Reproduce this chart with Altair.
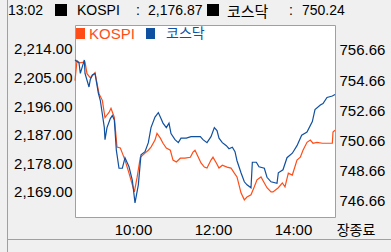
import altair as alt
import pandas as pd

# ---- data ----
kospi_minutes = [513, 516, 520, 528, 531, 536, 542, 543, 549, 554, 558, 564, 567, 572, 576, 581, 584, 588,
                 594, 602, 606, 611, 618, 623, 627, 633, 636, 641, 645, 650, 656, 660, 665, 671, 678, 686,
                 690, 693, 698, 702, 707, 711, 717, 720, 725, 729, 734, 741, 747, 752, 756, 762, 767, 771,
                 777, 782, 786, 792, 797, 801, 807, 810, 818, 824, 828, 833, 839, 846, 851, 855, 861, 866,
                 870, 876, 884, 891, 899, 900, 903]
kospi_values = [2204.0, 2210.3, 2209.6, 2209.9, 2206.2, 2204.9, 2206.2, 2206.5, 2199.9, 2197.8, 2192.4,
                2194.0, 2195.3, 2192.4, 2183.1, 2182.8, 2181.2, 2179.0, 2174.9, 2169.0, 2173.4, 2179.9,
                2181.2, 2182.1, 2183.1, 2185.3, 2187.4, 2185.9, 2184.3, 2182.8, 2182.1, 2179.0, 2178.4,
                2179.6, 2179.6, 2179.9, 2181.5, 2182.1, 2179.9, 2178.1, 2176.8, 2176.5, 2179.0, 2179.9,
                2178.1, 2176.5, 2177.4, 2176.8, 2176.5, 2174.9, 2173.7, 2168.7, 2166.5, 2167.4, 2168.1,
                2170.6, 2172.8, 2173.7, 2171.8, 2170.3, 2169.0, 2169.0, 2170.3, 2171.8, 2170.6, 2174.9,
                2174.3, 2179.0, 2179.9, 2182.1, 2184.6, 2185.3, 2184.3, 2184.6, 2184.3, 2184.3, 2184.3,
                2187.8, 2188.4]

kosdaq_minutes = [513, 519, 521, 527, 528, 534, 536, 539, 543, 548, 551, 557, 558, 561, 566, 569, 572, 575,
                  579, 584, 588, 594, 599, 603, 608, 612, 618, 623, 627, 633, 638, 642, 645, 650, 654, 657,
                  663, 668, 672, 680, 687, 701, 705, 711, 717, 722, 726, 729, 734, 740, 744, 749, 753, 756,
                  762, 767, 771, 777, 779, 785, 789, 797, 801, 807, 816, 818, 825, 831, 839, 846, 853, 861,
                  869, 873, 881, 885, 891, 899, 903]
kosdaq_values = [756.0, 755.8, 755.1, 756.0, 755.1, 754.2, 754.7, 755.0, 755.1, 753.8, 753.3, 751.5, 750.7,
                 751.5, 752.1, 752.3, 752.0, 750.0, 748.8, 748.8, 749.5, 748.9, 748.0, 746.5, 747.7, 749.7,
                 749.9, 750.5, 751.5, 752.2, 752.5, 752.1, 751.8, 751.5, 751.8, 751.1, 750.7, 750.5, 750.8,
                 750.8, 750.9, 750.9, 750.7, 750.5, 750.9, 751.5, 751.3, 750.8, 750.5, 750.3, 750.1, 750.2,
                 749.9, 749.3, 748.5, 747.9, 747.7, 747.5, 749.2, 749.2, 748.9, 748.8, 748.2, 747.9, 747.8,
                 748.5, 748.7, 749.5, 749.8, 750.3, 751.0, 751.2, 751.9, 752.7, 753.0, 753.1, 753.5, 753.6,
                 753.7]

kospi_ticks = [2169, 2178, 2187, 2196, 2205, 2214]
kosdaq_ticks = [746.66, 748.66, 750.66, 752.66, 754.66, 756.66]
time_ticks = [600, 720, 840]

header_time = "13:02"
header_kospi = ["KOSPI", ":", "2,176.87"]
header_kosdaq = ["코스닥", ":", "750.24"]
legend_labels = ["KOSPI", "코스닥"]
end_label = "장종료"

ORANGE = "#ff4d17"
BLUE = "#1050a0"
FONT = "Liberation Sans"
KFONT = "Noto Sans CJK KR"

W, H = 260, 192
PL, PT = 75, 25

kospi_df = pd.DataFrame({"t": kospi_minutes, "v": kospi_values})
kosdaq_df = pd.DataFrame({"t": kosdaq_minutes, "v": kosdaq_values})
one = pd.DataFrame({"d": [0]})

x_axis = alt.Axis(values=time_ticks, title=None, grid=False, ticks=False, domain=False,
                  labelPadding=5,
                  labelExpr="format(floor(datum.value/60),'02d') + ':' + format(datum.value % 60, '02d')")
x_scale = alt.Scale(domain=[513, 903], nice=False, zero=False)

kospi_line = alt.Chart(kospi_df).mark_line(color=ORANGE, strokeWidth=1.2).encode(
    x=alt.X("t:Q", scale=x_scale, axis=x_axis),
    y=alt.Y("v:Q", scale=alt.Scale(domain=[2161.1, 2221.5], nice=False, zero=False),
            axis=alt.Axis(orient="left", values=kospi_ticks, format=",.2f", title=None, grid=False,
                          ticks=False, domain=False, labelPadding=3)),
)

kosdaq_line = alt.Chart(kosdaq_df).mark_line(color=BLUE, strokeWidth=1.2).encode(
    x=alt.X("t:Q", scale=x_scale, axis=x_axis),
    y=alt.Y("v:Q", scale=alt.Scale(domain=[745.56, 758.32], nice=False, zero=False),
            axis=alt.Axis(orient="right", values=kosdaq_ticks, format=".2f", title=None, grid=False,
                          ticks=False, domain=False, labelPadding=4)),
)


def text_at(s, px, py, font=FONT, size=15, color="#000000", align="left"):
    return alt.Chart(one).mark_text(font=font, fontSize=size, color=color, align=align,
                                    baseline="middle").encode(
        x=alt.value(px - PL), y=alt.value(py - PT), text=alt.value(s))


def rect_at(x0, y0, x1, y1, color):
    return alt.Chart(one).mark_rect(color=color).encode(
        x=alt.value(x0 - PL), x2=alt.value(x1 - PL), y=alt.value(y0 - PT), y2=alt.value(y1 - PT))


def rule_at(x0, y0, x1, y1, color="#a0a0a0"):
    return alt.Chart(one).mark_rule(color=color, strokeWidth=1).encode(
        x=alt.value(x0 - PL), x2=alt.value(x1 - PL), y=alt.value(y0 - PT), y2=alt.value(y1 - PT))


HY = 11
overlays = [
    rule_at(7.5, 0, 7.5, 252),
    rule_at(7.5, 239.5, 391, 239.5),
    # header
    text_at(header_time, 8, HY, size=14),
    rect_at(55, 4, 67, 16, "#000000"),
    text_at(header_kospi[0], 77, HY, size=14),
    text_at(header_kospi[1], 136, HY, size=14),
    text_at(header_kospi[2], 148, HY, size=14),
    rect_at(207, 4, 219, 16, "#000000"),
    text_at(header_kosdaq[0], 227, HY + 0.5, font=KFONT, size=15),
    text_at(header_kosdaq[1], 289, HY, size=14),
    text_at(header_kosdaq[2], 302, HY, size=14),
    # legend
    rect_at(76, 28, 85, 39, ORANGE),
    text_at(legend_labels[0], 89, 34, color=ORANGE),
    rect_at(146, 28, 155, 39, BLUE),
    text_at(legend_labels[1], 166, 34, font=KFONT, size=14, color=BLUE),
    # end-of-session label
    text_at(end_label, 356, 230.5, font=KFONT, size=14, align="center"),
]

chart = alt.layer(kospi_line, kosdaq_line, *overlays).resolve_scale(
    y="independent").resolve_axis(y="independent").properties(
    width=W, height=H,
    autosize=alt.AutoSizeParams(type="none"),
    padding={"left": PL, "top": PT, "right": 391 - PL - W, "bottom": 252 - PT - H},
).configure(background="#f0f0f0").configure_view(
    fill="white", stroke="#a0a0a0", strokeWidth=1
).configure_axis(
    labelFont=FONT, labelFontSize=15, labelColor="#000000"
)

chart.save("out.html", embed_options={"renderer": "svg", "actions": False})
